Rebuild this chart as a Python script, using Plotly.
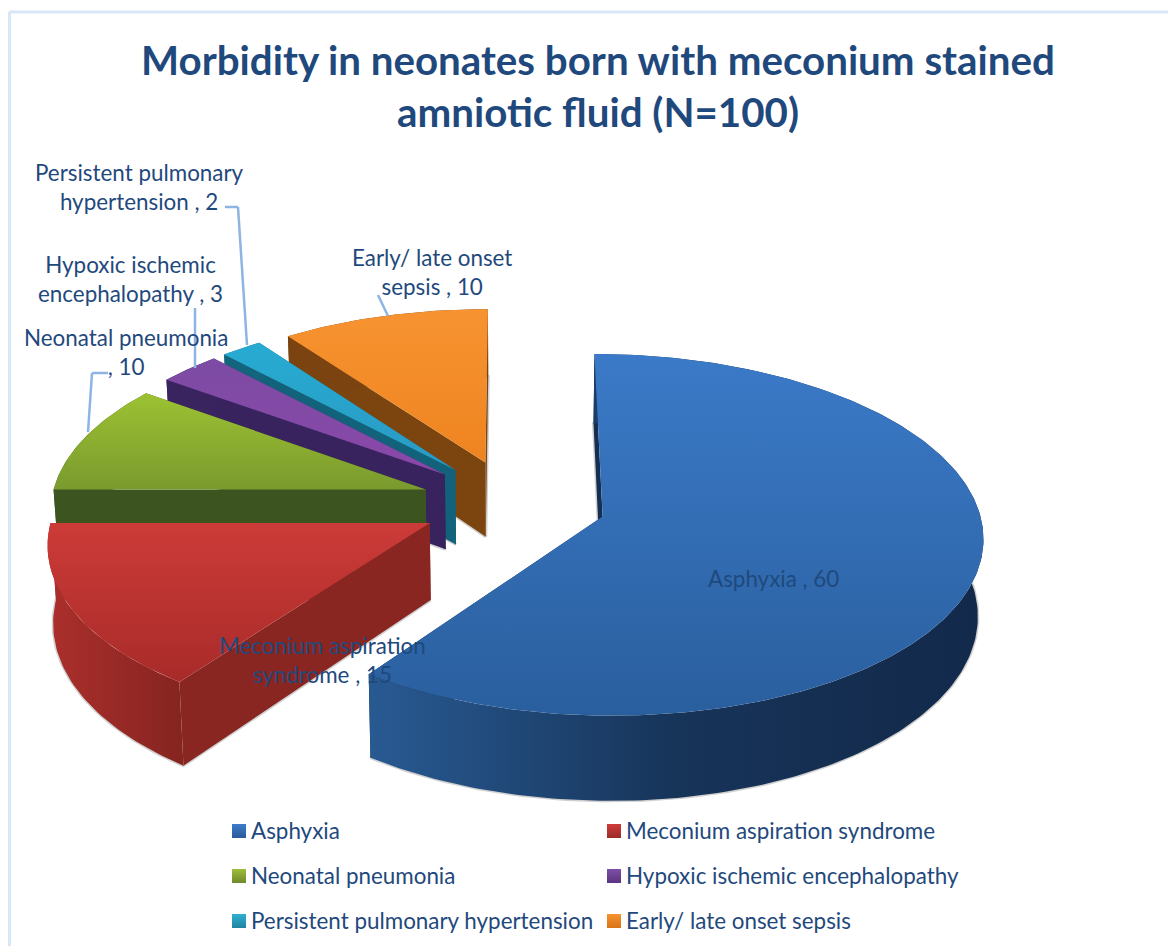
import numpy as np
import plotly.graph_objects as go

# ---- data ----
categories = ["Asphyxia", "Meconium aspiration syndrome", "Neonatal pneumonia",
              "Hypoxic ischemic encephalopathy", "Persistent pulmonary hypertension",
              "Early/ late onset sepsis"]
values = [60, 15, 10, 3, 2, 10]
title_lines = ["Morbidity in neonates born with meconium stained", "amniotic fluid (N=100)"]

# ---- style ----
TEXT = "#1F497D"
FONT = "Lato"
top_grad = ["#3B7AC8 #2A5F9E", "#CC3B38 #A82B29", "#9CC232 #7A9A2E",
            "#7C4BA4 #8A48A8", "#27ABD2 #2A9AC4", "#F79331 #EE8420"]
wall_grad = ["#285A92 #173459 #12294A", "#AC2F2C #852420", "#3C5420 #3C5420",
             "#3A2460 #3A2460", "#13657E #13657E", "#7A4310 #7A4310"]
edge_col = ["#152F52", "#8A2622", "#3C5420", "#38235E", "#11627A", "#7C4510"]
legend_top = ["#3E7CCB", "#CE3C39", "#9CBF3A", "#7E4FA6", "#2FB0D2", "#F79331"]
legend_bot = ["#2A5A98", "#9C2C28", "#71892C", "#5A3580", "#1F84A0", "#D97318"]

PAGE_MARGIN = 8             # the page body keeps this margin round the figure
cx, cy = 513.5, 503.0       # pie centre on the page
R = 375.0                   # radius
squash = 0.47               # tilt
k = 0.10                    # perspective
pull = 93.0                 # explosion
D = 76.0                    # thickness
zs = 0.988                  # narrowing of the lower face


def project(X, V, low=False):
    X, V = np.asarray(X, float), np.asarray(V, float)
    s = 1 / (1 - k * V / R)
    x = cx + X * s
    y = cy + squash * V * s
    if low:
        x = cx + (x - cx) * zs
        y = y + D * s
    return x, y


def poly(xs, ys, cols, kind="vertical"):
    stops = cols.split()
    pos = ys if kind == "vertical" else xs
    scale = [[n / (len(stops) - 1), c] for n, c in enumerate(stops)]
    return go.Scatter(
        x=list(xs), y=list(ys), mode="lines", fill="toself",
        line=dict(width=0, color=stops[-1]),
        hoverinfo="skip", showlegend=False,
        fillgradient=dict(type=kind, start=float(np.min(pos)), stop=float(np.max(pos)),
                          colorscale=scale),
    )


fig = go.Figure()
total = sum(values)
edges = np.cumsum([0] + values) / total * 2 * np.pi
slices = []
for i in range(len(values)):
    a0, a1 = edges[i], edges[i + 1]
    mid = (a0 + a1) / 2
    X0, V0 = pull * np.sin(mid), -pull * np.cos(mid)
    th = np.linspace(a0, a1, max(12, int((a1 - a0) * 60)))
    rx, rv = X0 + R * np.sin(th), V0 - R * np.cos(th)
    slices.append((X0, V0, rx, rv))

# painter's order: far slices first
for i in [5, 4, 3, 2, 1, 0]:
    X0, V0, rx, rv = slices[i]
    tx, ty = project(rx, rv)
    bx, by = project(rx, rv, True)
    ax, ay = project(X0, V0)
    cbx, cby = project(X0, V0, True)
    # soft halo under the lower rim
    fig.add_trace(go.Scatter(
        x=list(np.r_[cbx, bx, cbx]), y=list(np.r_[cby, by, cby]), mode="lines",
        line=dict(width=3, color="rgba(120,120,120,0.35)"),
        hoverinfo="skip", showlegend=False))
    # radial faces
    for j in (0, -1):
        c = edge_col[i] + " " + edge_col[i]
        fig.add_trace(poly([ax, tx[j], bx[j], cbx, ax], [ay, ty[j], by[j], cby, ay], c))
    # outer face
    fig.add_trace(poly(np.r_[tx, bx[::-1], tx[0]], np.r_[ty, by[::-1], ty[0]], wall_grad[i], "horizontal"))
    # top face
    fig.add_trace(poly(np.r_[ax, tx, ax], np.r_[ay, ty, ay], top_grad[i]))

# legend drawn as a marker/text grid
leg_x = [239, 614, 239, 614, 239, 614]
leg_y = [831, 831, 876, 876, 921, 921]
for i, name in enumerate(categories):
    fig.add_trace(go.Scatter(
        x=[leg_x[i]], y=[leg_y[i]], mode="markers",
        marker=dict(symbol="square", size=14, color=legend_top[i],
                    gradient=dict(type="vertical", color=legend_bot[i]),
                    line=dict(width=0)),
        hoverinfo="skip", showlegend=False))
    fig.add_trace(go.Scatter(
        x=[leg_x[i] + 12], y=[leg_y[i] + 2], mode="text", text=[name],
        textposition="middle right", textfont=dict(family=FONT, size=22.4, color=TEXT),
        hoverinfo="skip", showlegend=False))

# data labels
labels = [
    ("Asphyxia , %d" % values[0], 773, 578),
    ("Meconium aspiration<br>syndrome , %d" % values[1], 322, 660),
    ("Neonatal pneumonia<br>, %d" % values[2], 126, 352),
    ("Hypoxic ischemic<br>encephalopathy , %d" % values[3], 130, 279),
    ("Persistent pulmonary<br>hypertension , %d" % values[4], 139, 187),
    ("Early/ late onset<br>sepsis , %d" % values[5], 432, 272),
]
annotations = [dict(x=x, y=y, text=t, showarrow=False, xref="x", yref="y",
                    xanchor="center", yanchor="middle",
                    font=dict(family=FONT, size=22.4, color=TEXT)) for t, x, y in labels]

LEADER = "#8DB4E2"
leaders = [
    ([108, 92, 88], [373, 373, 432]),
    ([195, 195], [308, 368]),
    ([225, 238, 247], [207, 207, 345]),
    ([378, 388], [295, 316]),
]
shapes = []
for xs, ys in leaders:
    for a in range(len(xs) - 1):
        shapes.append(dict(type="line", x0=xs[a], x1=xs[a + 1], y0=ys[a], y1=ys[a + 1],
                           xref="x", yref="y", layer="above", line=dict(color=LEADER, width=2.5)))
BORDER = "#D9E6F5"
shapes.append(dict(type="line", x0=9.5, x1=9.5, y0=12, y1=946, xref="x", yref="y", line=dict(color=BORDER, width=3)))
shapes.append(dict(type="line", x0=9, x1=1176, y0=12, y1=12, xref="x", yref="y", line=dict(color=BORDER, width=3)))

W, H = 1176 - PAGE_MARGIN, 946 - PAGE_MARGIN
fig.update_layout(
    width=W, height=H, margin=dict(l=0, r=0, t=0, b=0),
    paper_bgcolor="white", plot_bgcolor="white", showlegend=False,
    xaxis=dict(range=[PAGE_MARGIN, 1176], visible=False, fixedrange=True),
    yaxis=dict(range=[946, PAGE_MARGIN], visible=False, fixedrange=True),
    title=dict(text="<br>".join(title_lines), x=(598 - PAGE_MARGIN) / W, xanchor="center",
               y=1 - (75 - PAGE_MARGIN) / H, yanchor="middle",
               font=dict(family=FONT, size=40.3, color=TEXT, weight="bold")),
    annotations=annotations, shapes=shapes,
)
fig.write_html("out.html", config=dict(displayModeBar=False))
